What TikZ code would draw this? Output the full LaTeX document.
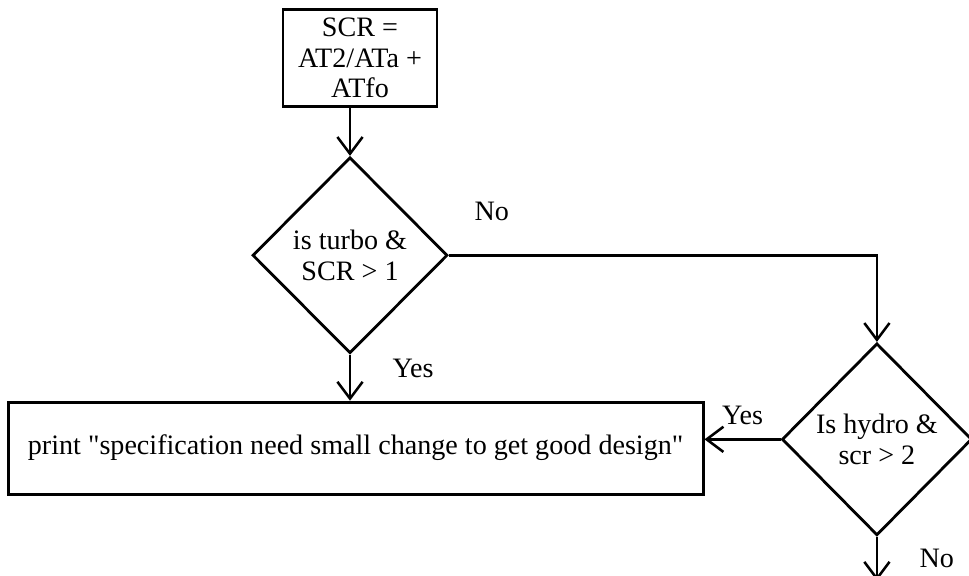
\documentclass[tikz,border=0pt]{standalone}
\usepackage{fontspec}
\setmainfont{Liberation Serif}
\usetikzlibrary{positioning, shapes.geometric, arrows.meta}

\begin{document}
\begin{tikzpicture}[
	font=\fontsize{20}{21.5}\selectfont,
	% Define styles
	calcbox/.style={rectangle, draw=black, line width=2pt, minimum width=3.85cm, minimum height=2.425cm, align=center},
	decision/.style={diamond, draw=black, line width=2pt, inner sep=0pt, align=center},
	outbox/.style={rectangle, draw=black, line width=2pt, minimum width=17.375cm, minimum height=2.3cm},
	arrow/.style={-{Straight Barb[length=4.2mm, width=6.3mm]}, line width=1.8pt},
	lbl/.style={inner sep=1pt}
	]
	
	\useasboundingbox (0,0) rectangle (24.225,-14.375);
	
	% 1. Ratio
	\node[calcbox] (scr) at (9.0,-1.45) {SCR =\\AT2/ATa +\\ATfo};
	
	% 2. First check
	\node[decision, minimum width=4.875cm, minimum height=4.9cm, below=1.2cm of scr, xshift=-0.25cm] (turbo) {is turbo \&\\SCR > 1};
	
	% 3. Result
	\node[outbox, below=1.15cm of turbo, xshift=0.14cm] (print) {print \textquotedbl specification need small change to get good design\textquotedbl};
	
	% 4. Second check
	\node[decision, minimum width=4.75cm, minimum height=4.8cm, right=1.9cm of print, yshift=0.22cm] (hydro) {Is hydro \&\\scr > 2};
	\coordinate[below=1.1cm of hydro.south] (exit);
	
	% Arrows
	\draw[arrow] (turbo.north |- scr.south) -- (turbo.north);
	\draw[arrow] (turbo.south) -- (turbo.south |- print.north) node[lbl, pos=0.3, right=1.0cm] {Yes};
	\draw[arrow] (turbo.east) -| node[lbl, pos=0.05, above=0.8cm] {No} (hydro.north);
	\draw[arrow] (hydro.west) -- (hydro.west -| print.east) node[lbl, midway, above=0.3cm] {Yes};
	\draw[arrow] (hydro.south) -- (exit) node[lbl, midway, right=1.0cm] {No};
\end{tikzpicture}
\end{document}
